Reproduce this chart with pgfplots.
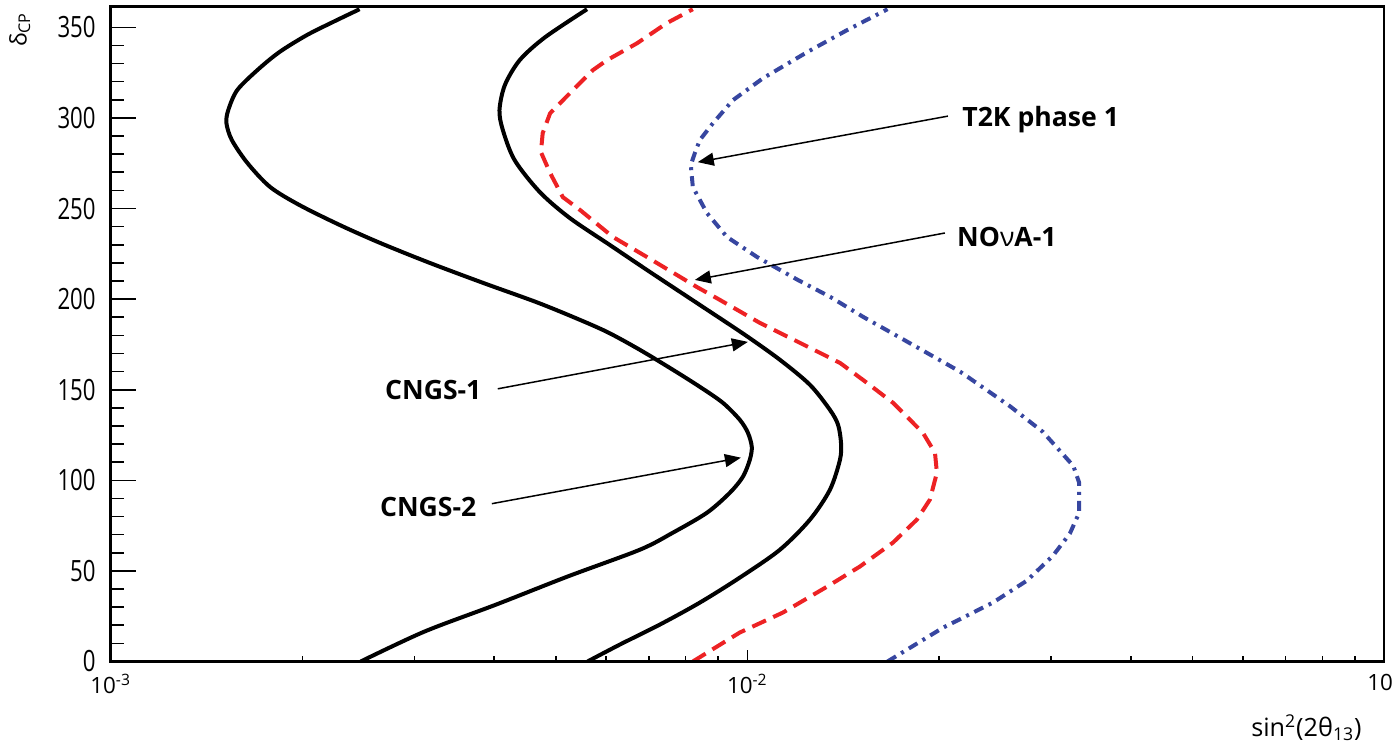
\documentclass[border=0pt]{standalone}
\usepackage{fontspec}
\setmainfont{Open Sans}
\usepackage{pgfplots}
\usepackage{pgfplotstable}
\pgfplotsset{compat=1.18}
\usetikzlibrary{arrows.meta}

\definecolor{novared}{RGB}{237,34,36}
\definecolor{t2kblue}{RGB}{55,70,160}

% 90% CL sensitivity contours: sin^2(2theta13) versus delta_CP (degrees)
\pgfplotstableread{
s d
0.00247 0
0.00311 16.5
0.00403 31.4
0.00522 46.9
0.00678 61.7
0.00764 71.1
0.00864 82.1
0.00939 93.2
0.00984 102.0
0.01009 111.4
0.01016 118.5
0.01002 126.2
0.00973 133.4
0.00915 142.8
0.00842 151.6
0.00764 161.0
0.00678 172.0
0.00602 181.9
0.00532 190.2
0.00465 198.5
0.00385 208.9
0.00317 220.0
0.00265 231.0
0.00229 240.9
0.00198 251.9
0.00178 261.9
0.00164 275.1
0.00155 287.8
0.00152 297.1
0.00153 304.3
0.00158 315.3
0.00170 326.4
0.00184 336.3
0.00203 345.6
0.00223 352.8
0.00246 360
}\cngstwo

\pgfplotstableread{
s d
0.00561 0
0.00631 9.4
0.00729 20.4
0.00842 32.5
0.00973 46.3
0.01125 61.7
0.01254 78.3
0.01348 94.8
0.01398 111.4
0.01403 120.7
0.01388 130.7
0.01348 138.9
0.01254 152.7
0.01125 166.5
0.00991 180.3
0.00842 196.8
0.00703 215.0
0.00608 229.9
0.00526 244.8
0.00472 259.1
0.00431 276.7
0.00413 293.3
0.00408 304.3
0.00416 318.1
0.00439 331.9
0.00481 344.5
0.00560 360
}\cngsone

\pgfplotstableread{
s d
0.00821 0
0.00973 16.0
0.01137 27.0
0.01334 41.3
0.01502 52.4
0.01693 65.6
0.01846 78.3
0.01935 89.3
0.01985 104.2
0.01971 115.2
0.01887 126.2
0.01781 135.1
0.01693 142.8
0.01541 153.8
0.01398 164.8
0.01209 175.9
0.01046 186.9
0.00905 199.6
0.00833 206.7
0.00695 223.3
0.00615 234.3
0.00546 249.2
0.00513 256.3
0.00490 269.6
0.00474 281.1
0.00477 291.6
0.00490 302.6
0.00532 315.3
0.00572 326.4
0.00602 331.9
0.00671 341.2
0.00747 352.3
0.00821 360
}\novaone

\pgfplotstableread{
s d
0.0166 0
0.0203 18.7
0.0243 32.5
0.0275 44.7
0.0302 58.4
0.0321 70.6
0.0332 82.1
0.0332 98.7
0.0325 108.0
0.0291 126.8
0.0258 141.1
0.0216 159.9
0.0174 178.6
0.0152 190.2
0.0135 201.2
0.0120 210.6
0.01035 223.3
0.00929 234.3
0.00864 247.5
0.00821 261.9
0.00815 274.0
0.00827 280.6
0.00842 287.8
0.00883 297.1
0.00949 309.8
0.01058 321.9
0.01241 336.3
0.01433 348.4
0.0166 360
}\tkone

\pgfplotsset{
  sensframe/.style={
    at={(55.35pt,42.25pt)}, anchor=south west,
    scale only axis, width=636.7pt, height=327.5pt,
    xmin=1e-3, xmax=1e-1,
    ymin=0, ymax=361.5,
    tick align=inside,
    axis line style={line width=1.3pt, black},
    tick style={line width=0.8pt, black},
  },
}
\tikzset{
  arrowlabel/.style={inner sep=0pt, font=\bfseries\fontsize{13.3}{16}\selectfont},
  pointer/.style={line width=0.75pt, -{Triangle[length=8pt,width=6.5pt]}},
}

\begin{document}
\begin{tikzpicture}
% frame, delta_CP ticks and the curves
\begin{semilogxaxis}[sensframe,
  xtick=\empty, minor xtick={},
  ytick={0,50,...,350}, minor y tick num=4,
  ytick pos=left,
  major tick length=12.5pt, minor tick length=6.5pt,
  /pgf/number format/assume math mode=true,
  yticklabel style={font=\fontsize{11.1}{13}\selectfont, yscale=1.32, xshift=-4pt},
  ylabel={δ\textsubscript{CP}},
  ylabel style={at={(rel axis cs:-0.066,0.991)}, anchor=base east, inner sep=0pt,
    font=\fontsize{11.5}{13}\selectfont},
]
\addplot[black, line width=2pt, smooth, tension=0.5] table[x=s,y=d]{\cngstwo};
\addplot[black, line width=2pt, smooth, tension=0.5] table[x=s,y=d]{\cngsone};
\addplot[novared, line width=2pt, dash pattern=on 7.5pt off 4pt] table[x=s,y=d]{\novaone};
\addplot[t2kblue, line width=2pt, dash pattern=on 5pt off 3pt on 1.5pt off 3pt] table[x=s,y=d]{\tkone};

\draw[pointer] (axis cs:0.02065,301.0) -- (axis cs:0.008359,275.6);
\node[arrowlabel, anchor=base west] at (axis cs:0.02173,295.5) {T2K phase 1};
\draw[pointer] (axis cs:0.02043,236.5) -- (axis cs:0.008270,210.6);
\node[arrowlabel, anchor=base west] at (axis cs:0.02133,229.3) {NO{\mdseries ν}A-1};
\draw[pointer] (axis cs:0.004055,150.5) -- (axis cs:0.010018,176.4);
\node[arrowlabel, anchor=base east] at (axis cs:0.003828,144.4) {CNGS-1};
\draw[pointer] (axis cs:0.003969,87.1) -- (axis cs:0.009768,112.5);
\node[arrowlabel, anchor=base east] at (axis cs:0.003758,79.9) {CNGS-2};
\end{semilogxaxis}
% logarithmic sin^2(2theta13) ticks
\begin{semilogxaxis}[sensframe,
  ytick=\empty, minor ytick={},
  xtick={1e-3,1e-2,1e-1},
  xticklabels={10\textsuperscript{-3},10\textsuperscript{-2},\makebox[0pt]{10\hspace{4pt}}},
  minor xtick={0.002,0.003,0.004,0.005,0.006,0.007,0.008,0.009,0.02,0.03,0.04,0.05,0.06,0.07,0.08,0.09},
  xtick pos=left,
  major tick length=6pt, minor tick length=3pt,
  xticklabel style={font=\fontsize{11.2}{13}\selectfont, yshift=-3pt},
  xlabel={sin\textsuperscript{2}(2θ\textsubscript{13})},
  xlabel style={at={(rel axis cs:0.9827,-0.1143)}, anchor=base east, inner sep=0pt,
    font=\fontsize{12.6}{15}\selectfont},
]
\end{semilogxaxis}
\pgfresetboundingbox
\path[use as bounding box] (0,0) rectangle (697pt,373pt);
\end{tikzpicture}
\end{document}
